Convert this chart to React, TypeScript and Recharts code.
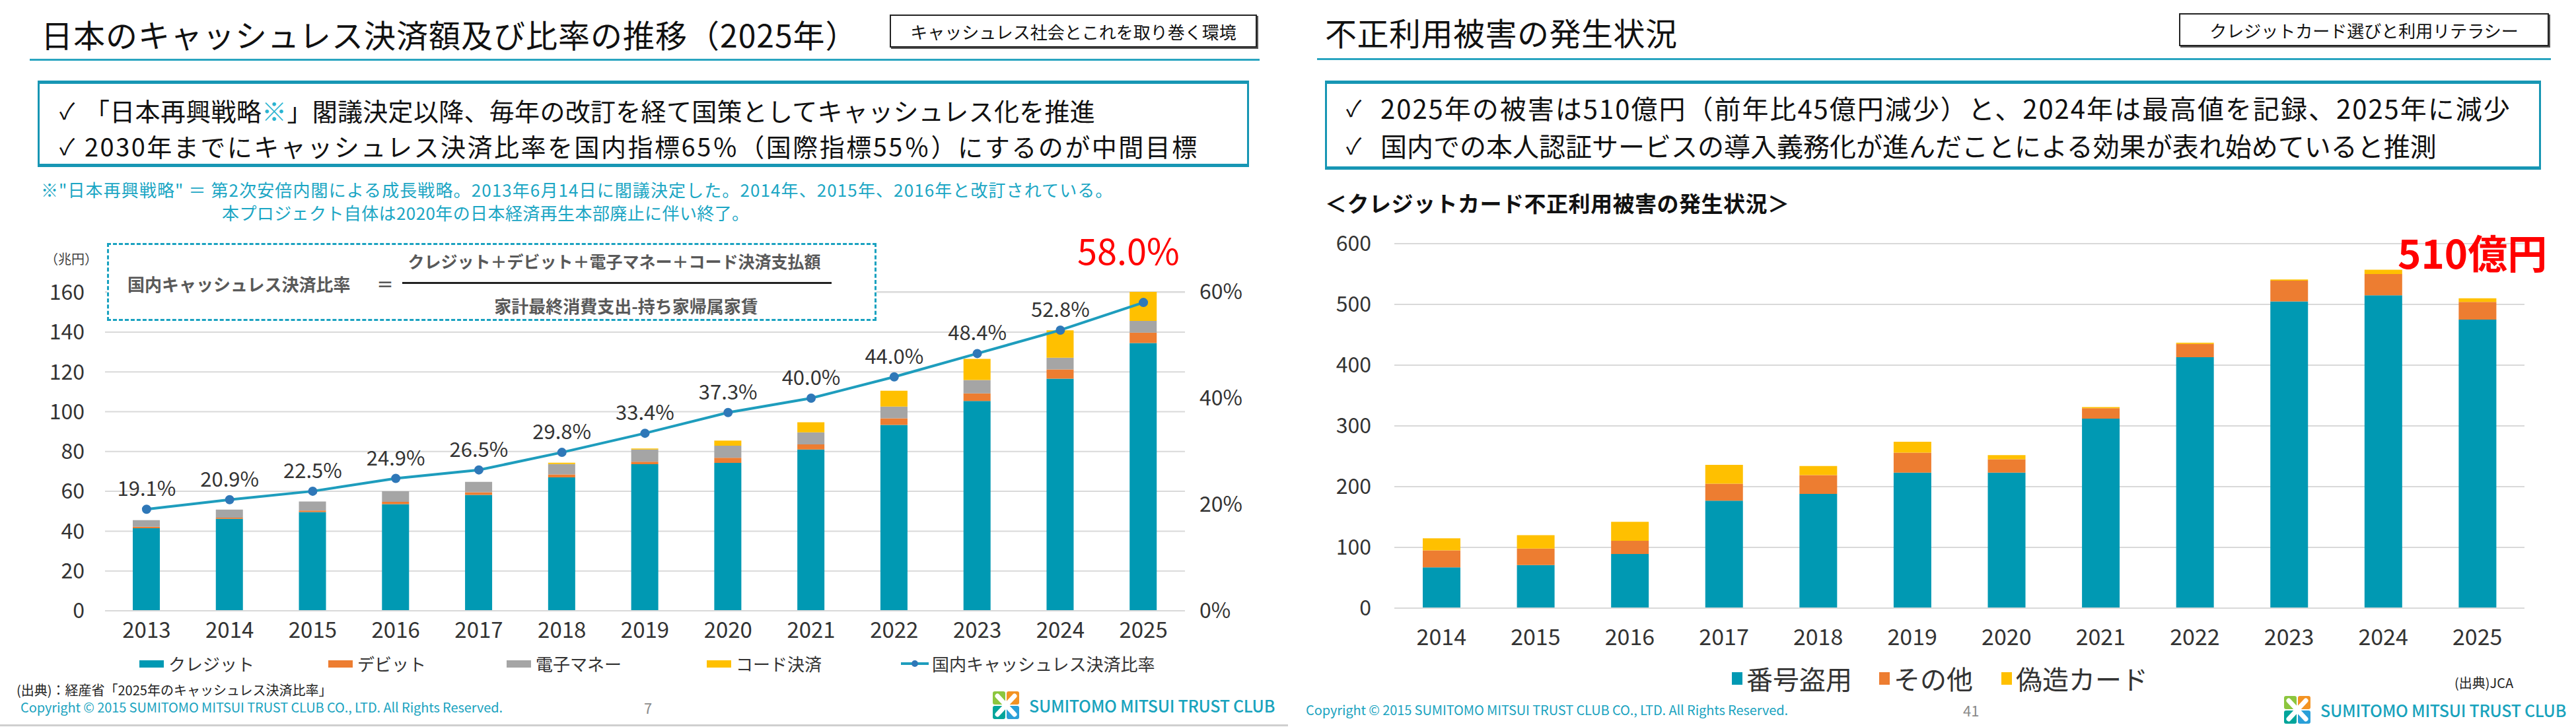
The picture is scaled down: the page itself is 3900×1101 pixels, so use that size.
import React from "react"
import { Bar, BarChart, CartesianGrid, ComposedChart, LabelList, Line, XAxis, YAxis } from "recharts"

// 日本のキャッシュレス決済額（兆円）と比率
const years = ["2013", "2014", "2015", "2016", "2017", "2018", "2019", "2020", "2021", "2022", "2023", "2024", "2025"]
const credit = [41.5, 46.2, 49.6, 53.6, 58.2, 67.0, 73.6, 74.3, 81.0, 93.4, 105.4, 116.6, 134.5]
const debit = [0.7, 0.6, 0.7, 1.1, 1.3, 1.5, 1.3, 2.6, 2.6, 3.3, 3.8, 4.6, 5.2]
const emoney = [3.3, 4.0, 4.6, 5.3, 5.3, 5.2, 6.1, 6.0, 6.0, 5.9, 6.7, 5.9, 5.9]
const code = [0, 0, 0, 0, 0, 0.7, 0.5, 2.6, 5.1, 7.9, 10.6, 13.8, 14.6]
const ratio = [19.1, 20.9, 22.5, 24.9, 26.5, 29.8, 33.4, 37.3, 40.0, 44.0, 48.4, 52.8, 58.0]
const amountTicks = [0, 20, 40, 60, 80, 100, 120, 140, 160]
const ratioTicks = [0, 20, 40, 60]

// クレジットカード不正利用被害額（億円）
const fraudYears = ["2014", "2015", "2016", "2017", "2018", "2019", "2020", "2021", "2022", "2023", "2024", "2025"]
const numberTheft = [67, 71, 89, 177, 188, 223, 223, 312, 413, 505, 515, 475]
const otherFraud = [28, 27, 22, 28, 31, 33, 22, 17, 22, 34, 35, 29]
const counterfeit = [20, 22, 31, 31, 15, 18, 7, 2, 2, 2, 7, 6]
const fraudTicks = [0, 100, 200, 300, 400, 500, 600]

const TEAL = "#0099b3"
const ORANGE = "#ed7d31"
const GRAY = "#a5a5a5"
const YELLOW = "#ffc000"
const LINE = "#1e9dbd"
const GRID = "#d9d9d9"
const INK = "#333333"
const FONT = "'Noto Sans CJK JP', 'Noto Sans', sans-serif"

const cashlessSeries = [
  { key: "credit", name: "クレジット", color: TEAL },
  { key: "debit", name: "デビット", color: ORANGE },
  { key: "emoney", name: "電子マネー", color: GRAY },
  { key: "code", name: "コード決済", color: YELLOW },
]
const fraudSeries = [
  { key: "numberTheft", name: "番号盗用", color: TEAL },
  { key: "otherFraud", name: "その他", color: ORANGE },
  { key: "counterfeit", name: "偽造カード", color: YELLOW },
]

const cashlessData = years.map((year, i) => ({
  year,
  credit: credit[i],
  debit: debit[i],
  emoney: emoney[i],
  code: code[i],
  ratio: ratio[i],
  ratioLabel: i < years.length - 1 ? ratio[i] : null,
}))

const fraudData = fraudYears.map((year, i) => ({
  year,
  numberTheft: numberTheft[i],
  otherFraud: otherFraud[i],
  counterfeit: counterfeit[i],
}))

type TProps = { x: number; cy: number; size: number; color?: string; weight?: number; children: React.ReactNode; center?: boolean; spacing?: number }

function T({ x, cy, size, color = "#111", weight = 400, children, center, spacing = 0 }: TProps) {
  return (
    <div
      style={{
        position: "absolute",
        left: x,
        top: cy,
        transform: center ? "translate(-50%, -50%)" : "translateY(-50%)",
        fontSize: size,
        lineHeight: 1,
        color,
        fontWeight: weight,
        whiteSpace: "nowrap",
        letterSpacing: spacing,
      }}
    >
      {children}
    </div>
  )
}

function Logo({ x, y }: { x: number; y: number }) {
  return (
    <>
      <svg style={{ position: "absolute", left: x, top: y }} width={42} height={44} viewBox="0 0 42 44">
        <rect x={1} y={1} width={19} height={20} rx={3} fill="#8cc63e" />
        <rect x={22} y={1} width={19} height={20} rx={3} fill="#f39323" />
        <rect x={1} y={23} width={19} height={20} rx={3} fill="#00a59b" />
        <rect x={22} y={23} width={19} height={20} rx={3} fill="#2a9fd8" />
        <path d="M8 8 L34 36 M34 8 L8 36" stroke="#fff" strokeWidth={7} strokeLinecap="round" />
      </svg>
      <T x={x + 56} cy={y + 22} size={25} color="#18a3bd" weight={500} spacing={-0.3}>
        SUMITOMO MITSUI TRUST CLUB
      </T>
    </>
  )
}

function TagBox({ x, y, w, children }: { x: number; y: number; w: number; children: React.ReactNode }) {
  return (
    <div
      style={{
        position: "absolute",
        left: x,
        top: y,
        width: w,
        height: 46,
        border: "2px solid #222",
        boxShadow: "2px 2px 0 #555",
        display: "flex",
        alignItems: "center",
        justifyContent: "center",
        fontSize: 26,
        color: "#111",
        whiteSpace: "nowrap",
      }}
    >
      {children}
    </div>
  )
}

function BulletBox({ x, y, w, h }: { x: number; y: number; w: number; h: number }) {
  return (
    <div
      style={{
        position: "absolute",
        left: x,
        top: y,
        width: w,
        height: h,
        boxSizing: "border-box",
        borderTop: "5px solid #1796b4",
        borderBottom: "5px solid #1796b4",
        borderLeft: "3px solid #1796b4",
        borderRight: "3px solid #1796b4",
      }}
    />
  )
}

function Copyright({ x, cy, page, pageX }: { x: number; cy: number; page: string; pageX: number }) {
  return (
    <>
      <T x={x} cy={cy} size={20} color="#1aa3c0" spacing={-0.1}>
        Copyright © 2015 SUMITOMO MITSUI TRUST CLUB CO., LTD. All Rights Reserved.
      </T>
      <T x={pageX} cy={cy} size={22} color="#8a8a8a">
        {page}
      </T>
    </>
  )
}

function CashlessSlide() {
  const legendX = [211, 497, 767, 1070]
  return (
    <div style={{ position: "absolute", left: 0, top: 0, width: 1950, height: 1101 }}>
      <T x={62} cy={51} size={48} spacing={1}>
        日本のキャッシュレス決済額及び比率の推移（2025年）
      </T>
      <TagBox x={1347} y={22} w={552}>
        キャッシュレス社会とこれを取り巻く環境
      </TagBox>
      <div style={{ position: "absolute", left: 45, top: 89, width: 1862, height: 3, background: "#2aa5c0" }} />

      <BulletBox x={57} y={122} w={1834} h={131} />
      <T x={90} cy={167} size={34}>✓</T>
      <T x={128} cy={167} size={38} spacing={0.3}>
        「日本再興戦略<span style={{ color: "#2ab3cf" }}>※</span>」閣議決定以降、毎年の改訂を経て国策としてキャッシュレス化を推進
      </T>
      <T x={90} cy={221} size={34}>✓</T>
      <T x={128} cy={221} size={38} spacing={2.5}>
        2030年までにキャッシュレス決済比率を国内指標65％（国際指標55％）にするのが中間目標
      </T>

      <T x={62} cy={287} size={26} color="#1ba6c4" spacing={1.1}>
        ※"日本再興戦略" ＝ 第2次安倍内閣による成長戦略。2013年6月14日に閣議決定した。2014年、2015年、2016年と改訂されている。
      </T>
      <T x={336} cy={322} size={26} color="#1ba6c4" spacing={0.4}>
        本プロジェクト自体は2020年の日本経済再生本部廃止に伴い終了。
      </T>

      <div style={{ position: "absolute", left: 0, top: 380 }}>
        <ComposedChart width={1950} height={620} data={cashlessData} margin={{ top: 62, right: 0, bottom: 15, left: 0 }}>
          <CartesianGrid yAxisId="left" vertical={false} stroke={GRID} strokeWidth={2} />
          <XAxis
            dataKey="year"
            height={60}
            tickLine={false}
            tickSize={0}
            tickMargin={18}
            axisLine={{ stroke: GRID, strokeWidth: 2 }}
            tick={{ fontSize: 33, fill: INK }}
          />
          <YAxis
            yAxisId="left"
            width={159}
            domain={[0, 160]}
            ticks={amountTicks}
            axisLine={false}
            tickLine={false}
            tickSize={0}
            tickMargin={31}
            tick={{ fontSize: 32, fill: INK }}
          />
          <YAxis
            yAxisId="right"
            orientation="right"
            width={156}
            domain={[0, 60]}
            ticks={ratioTicks}
            axisLine={false}
            tickLine={false}
            tickSize={0}
            tickMargin={22}
            tickFormatter={(v) => `${v}%`}
            tick={{ fontSize: 32, fill: INK }}
          />
          {cashlessSeries.map((s) => (
            <Bar key={s.key} yAxisId="left" dataKey={s.key} name={s.name} stackId="a" fill={s.color} barSize={41} isAnimationActive={false} />
          ))}
          <Line
            yAxisId="right"
            dataKey="ratio"
            name="国内キャッシュレス決済比率"
            stroke={LINE}
            strokeWidth={4}
            dot={{ r: 5, fill: "#2f78b8", stroke: "#2f78b8" }}
            isAnimationActive={false}
          >
            <LabelList
              dataKey="ratioLabel"
              position="top"
              offset={20}
              fill={INK}
              fontSize={31}
              formatter={(v: any) => (v == null ? "" : `${Number(v).toFixed(1)}%`)}
            />
          </Line>
        </ComposedChart>
      </div>

      <T x={68} cy={392} size={20} color="#404040">（兆円）</T>

      <div
        style={{
          position: "absolute",
          left: 162,
          top: 368,
          width: 1165,
          height: 118,
          boxSizing: "border-box",
          border: "3px dashed #1aa2c0",
          background: "#fff",
        }}
      />
      <T x={193} cy={430} size={26} color="#595959" weight={700}>国内キャッシュレス決済比率</T>
      <T x={570} cy={430} size={26} color="#595959" weight={700}>＝</T>
      <T x={930} cy={395} size={25} color="#595959" weight={700} center>
        クレジット＋デビット＋電子マネー＋コード決済支払額
      </T>
      <div style={{ position: "absolute", left: 609, top: 427, width: 650, height: 3, background: "#222" }} />
      <T x={948} cy={463} size={26} color="#595959" weight={700} center>
        家計最終消費支出-持ち家帰属家賃
      </T>

      <T x={1631} cy={378} size={54} color="#ff0000">58.0%</T>

      {cashlessSeries.map((s, i) => (
        <React.Fragment key={s.key}>
          <div style={{ position: "absolute", left: legendX[i], top: 1000, width: 37, height: 11, background: s.color }} />
          <T x={legendX[i] + 44} cy={1005} size={26} color={INK}>{s.name}</T>
        </React.Fragment>
      ))}
      <svg style={{ position: "absolute", left: 1364, top: 995 }} width={42} height={20}>
        <line x1={0} y1={10} x2={42} y2={10} stroke={LINE} strokeWidth={4} />
        <circle cx={21} cy={10} r={5} fill="#2f78b8" />
      </svg>
      <T x={1411} cy={1005} size={26} color={INK}>国内キャッシュレス決済比率</T>

      <T x={25} cy={1045} size={20} color="#222">(出典)：経産省「2025年のキャッシュレス決済比率」</T>
      <Copyright x={31} cy={1071} page="7" pageX={975} />
      <Logo x={1502} y={1046} />
      <div style={{ position: "absolute", left: 0, top: 1097, width: 1950, height: 3, background: "#cfcfcf" }} />
    </div>
  )
}

function FraudSlide() {
  const legendX = [2622, 2845, 3030]
  return (
    <div style={{ position: "absolute", left: 0, top: 0, width: 3900, height: 1101 }}>
      <T x={2006} cy={48} size={48} spacing={0.5}>不正利用被害の発生状況</T>
      <TagBox x={3299} y={20} w={556}>
        クレジットカード選びと利用リテラシー
      </TagBox>
      <div style={{ position: "absolute", left: 1994, top: 88, width: 1868, height: 3, background: "#2aa5c0" }} />

      <BulletBox x={2006} y={122} w={1841} h={135} />
      <T x={2038} cy={163} size={34}>✓</T>
      <T x={2090} cy={163} size={40} spacing={2}>
        2025年の被害は510億円（前年比45億円減少）と、2024年は最高値を記録、2025年に減少
      </T>
      <T x={2038} cy={220} size={34}>✓</T>
      <T x={2090} cy={220} size={40}>
        国内での本人認証サービスの導入義務化が進んだことによる効果が表れ始めていると推測
      </T>

      <T x={2006} cy={307} size={33} weight={700} spacing={0.5}>＜クレジットカード不正利用被害の発生状況＞</T>

      <div style={{ position: "absolute", left: 1950, top: 340 }}>
        <BarChart width={1950} height={680} data={fraudData} margin={{ top: 29, right: 78, bottom: 19, left: 0 }}>
          <CartesianGrid vertical={false} stroke={GRID} strokeWidth={2} />
          <XAxis
            dataKey="year"
            height={80}
            tickLine={false}
            tickSize={0}
            tickMargin={32}
            axisLine={{ stroke: GRID, strokeWidth: 2 }}
            tick={{ fontSize: 34, fill: INK }}
          />
          <YAxis
            width={161}
            domain={[0, 600]}
            ticks={fraudTicks}
            axisLine={false}
            tickLine={false}
            tickSize={0}
            tickMargin={35}
            tick={{ fontSize: 32, fill: INK }}
          />
          {fraudSeries.map((s) => (
            <Bar key={s.key} dataKey={s.key} name={s.name} stackId="f" fill={s.color} barSize={57} isAnimationActive={false} />
          ))}
        </BarChart>
      </div>

      <T x={3630} cy={381} size={60} color="#ff0000" weight={700}>510億円</T>

      {fraudSeries.map((s, i) => (
        <React.Fragment key={s.key}>
          <div style={{ position: "absolute", left: legendX[i], top: 1018, width: 16, height: 19, background: s.color }} />
          <T x={legendX[i] + 22} cy={1027} size={40} color={INK}>{s.name}</T>
        </React.Fragment>
      ))}
      <T x={3716} cy={1034} size={20} color="#222">(出典)JCA</T>

      <Copyright x={1977} cy={1075} page="41" pageX={2972} />
      <Logo x={3457} y={1053} />
    </div>
  )
}

export default function App() {
  return (
    <div
      style={{
        position: "absolute",
        left: 0,
        top: 0,
        width: 3900,
        height: 1101,
        background: "#fff",
        overflow: "hidden",
        fontFamily: FONT,
      }}
    >
      <CashlessSlide />
      <FraudSlide />
    </div>
  )
}
